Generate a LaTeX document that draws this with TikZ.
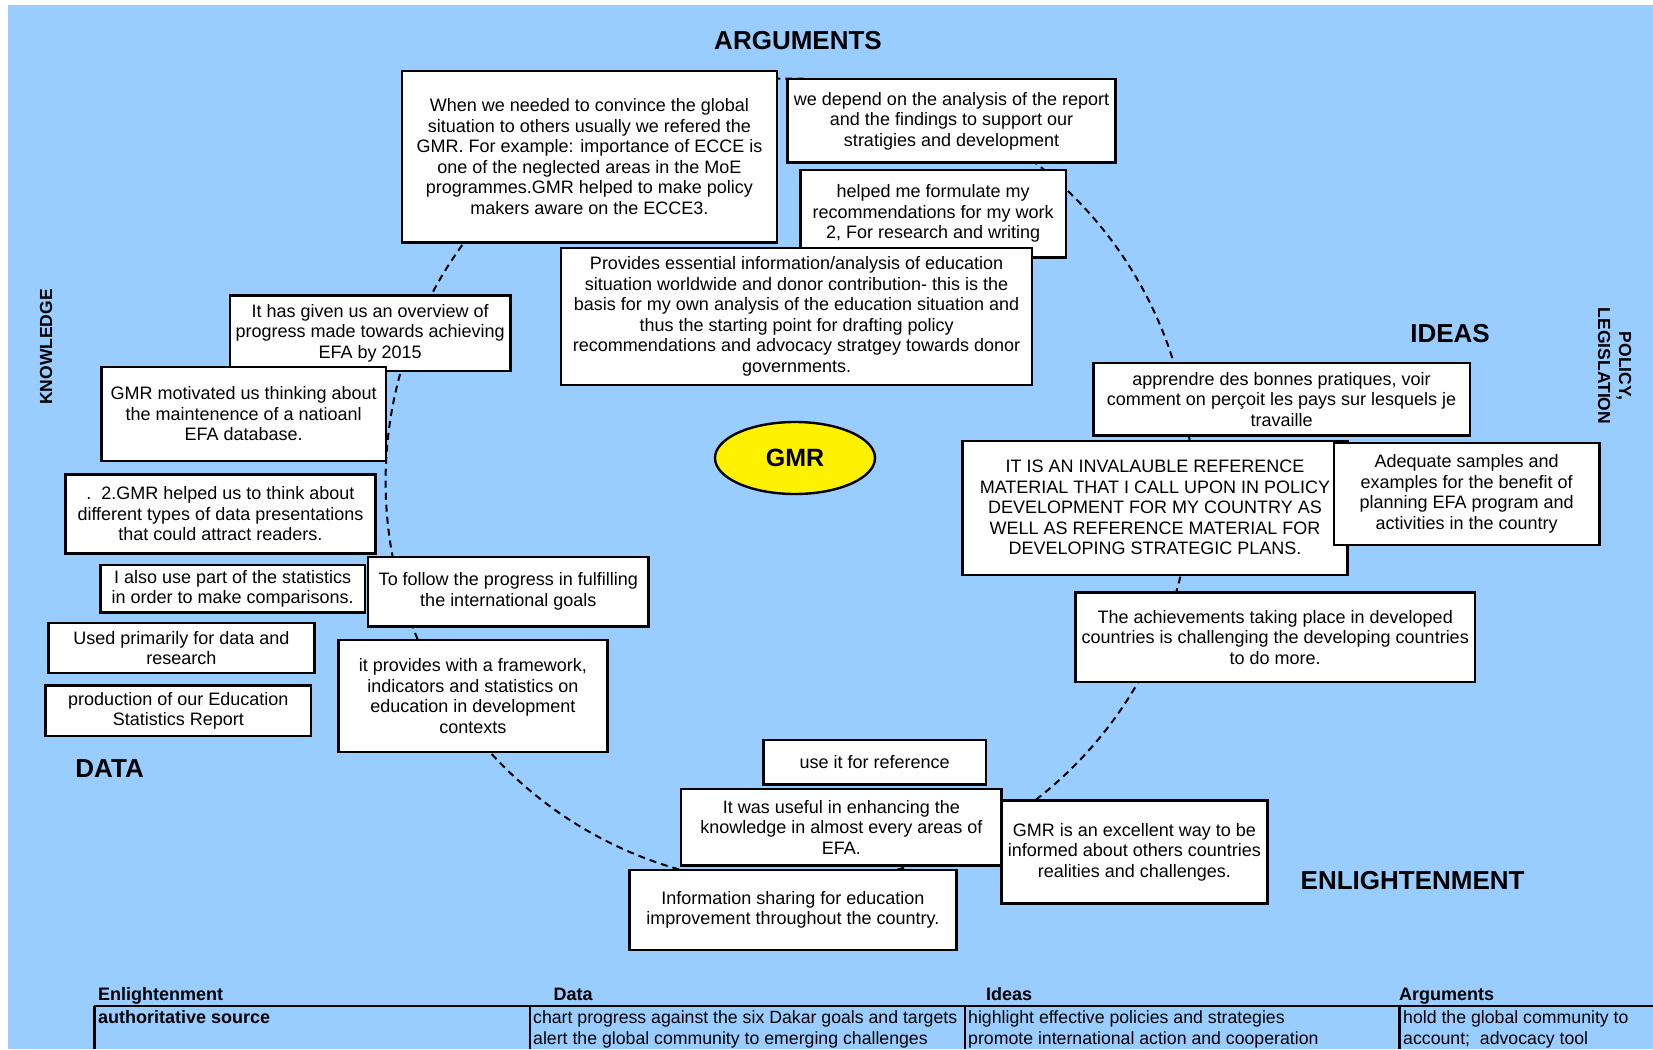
\documentclass[tikz,border=0pt]{standalone}
\usepackage{fontspec}
\setmainfont{Liberation Sans}
\usetikzlibrary{shapes.geometric}
\definecolor{bgblue}{HTML}{99CCFF}
\tikzset{
  box/.style={draw=black, fill=white, line width=2.4pt, align=center, inner sep=1pt,
    font=\fontsize{18pt}{20.5pt}\selectfont},
  bigtitle/.style={font=\fontsize{26pt}{30pt}\selectfont\bfseries, inner sep=0pt},
  sidetitle/.style={font=\fontsize{17.5pt}{21pt}\selectfont\bfseries, inner sep=0pt, align=center},
  tabhead/.style={font=\fontsize{18pt}{21pt}\selectfont\bfseries, inner sep=0pt, anchor=base west},
  tabtext/.style={font=\fontsize{17.7pt}{21pt}\selectfont, inner sep=0pt, anchor=base west},
  tabline/.style={line width=2.2pt},
  ring/.style={line width=2pt, dash pattern=on 7pt off 5pt}
}
\newcommand\gbox[6]{\node[box,anchor=north west,minimum width={(#4-#2)*1pt},minimum height={(#5-#3)*1pt}] (#1) at (#2,#3) {#6};}
\begin{document}
\begin{tikzpicture}[x=1pt,y=-1pt]
\useasboundingbox (0,0) rectangle (1653,1049);
\fill[bgblue] (8,5) rectangle (1653,1049);
% dashed ring
\coordinate (ringc) at (788.6,481.5);
\draw[ring] (ringc) circle[radius=403];
% boxes
\gbox{b1}{400.6}{69.6}{775.9}{241.4}{When we needed to convince the global\\situation to others usually we refered the\\GMR. For example: importance of ECCE is\\one of the neglected areas in the MoE\\programmes.GMR helped to make policy\\makers aware on the ECCE3.}
\gbox{b2}{786.4}{78}{1114.3}{161.3}{we depend on the analysis of the report\\and the findings to support our\\stratigies and development}
\gbox{b3}{799.1}{168.7}{1064.8}{256.2}{helped me formulate my\\recommendations for my work\\2, For research and writing}
\gbox{b4}{559.8}{246.7}{1031}{383.7}{Provides essential information/analysis of education\\situation worldwide and donor contribution- this is the\\basis for my own analysis of the education situation and\\thus the starting point for drafting policy\\recommendations and advocacy stratgey towards donor\\governments.}
\gbox{b5}{228.8}{294.1}{509.2}{370}{It has given us an overview of\\progress made towards achieving\\EFA by 2015}
\gbox{b6}{100.2}{365.8}{384.8}{459.6}{GMR motivated us thinking about\\the maintenence of a natioanl\\EFA database.}
\gbox{b7}{64.3}{473.3}{374.2}{552.4}{.\ \ 2.GMR helped us to think about\\different types of data presentations\\that could attract readers.}
\gbox{b8}{99.1}{564}{363.7}{611.4}{I also use part of the statistics\\in order to make comparisons.}
\gbox{b9}{366.9}{555.6}{647.3}{625.1}{To follow the progress in fulfilling\\the international goals}
\gbox{b10}{47.4}{622}{313.1}{671.5}{Used primarily for data and\\research}
\gbox{b11}{44.3}{684.2}{309.9}{734.8}{production of our Education\\Statistics Report}
\gbox{b12}{337.3}{638.9}{606.2}{750.6}{it provides with a framework,\\indicators and statistics on\\education in development\\contexts}
\gbox{b13}{1092.2}{361.6}{1468.5}{434.3}{apprendre des bonnes pratiques, voir\\comment on perçoit les pays sur lesquels je\\travaille}
\gbox{b14}{961.4}{439.6}{1346.2}{573.5}{IT IS AN INVALAUBLE REFERENCE\\MATERIAL THAT I CALL UPON IN POLICY\\DEVELOPMENT FOR MY COUNTRY AS\\WELL AS REFERENCE MATERIAL FOR\\DEVELOPING STRATEGIC PLANS.}
\gbox{b15}{1332.5}{441.7}{1598.2}{544}{Adequate samples and\\examples for the benefit of\\planning EFA program and\\activities in the country}
\gbox{b16}{1074.2}{591.4}{1473.8}{681}{The achievements taking place in developed\\countries is challenging the developing countries\\to do more.}
\gbox{b17}{762.2}{739}{984.6}{783.3}{use it for reference}
\gbox{b18}{680}{787.5}{1000.4}{864.4}{It was useful in enhancing the\\knowledge in almost every areas of\\EFA.}
\gbox{b19}{1000.4}{799.1}{1266.1}{902.4}{GMR is an excellent way to be\\informed about others countries\\realities and challenges.}
\gbox{b20}{628.3}{868.7}{955.1}{948.8}{Information sharing for education\\improvement throughout the country.}
% centre
\node[ellipse, draw=black, fill=yellow, line width=2.4pt, minimum width=160pt, minimum height=72pt, inner sep=0pt,
  font=\fontsize{25pt}{30pt}\selectfont\bfseries] (gmr) at (795,458) {GMR};
% titles
\node[bigtitle] (targ) at (798,41) {ARGUMENTS};
\node[bigtitle] (tidea) at (1450,334) {IDEAS};
\node[bigtitle] (tdata) at (109.6,768.5) {DATA};
\node[bigtitle] (tenl) at (1412.6,880.3) {ENLIGHTENMENT};
\node[sidetitle, rotate=90] (tknow) at (46,347) {KNOWLEDGE};
\node[sidetitle, rotate=-90] (tpol) at (1614.5,366) {POLICY,\\LEGISLATION};
% table
\draw[tabline] (94.4,1005.7) -- (1653,1005.7);
\draw[tabline] (94.4,1005.7) -- (94.4,1049);
\draw[tabline] (530,1005.7) -- (530,1049);
\draw[tabline] (965,1005.7) -- (965,1049);
\draw[tabline] (1399.5,1005.7) -- (1399.5,1049);
\node[tabhead] (h1) at (98,1000.5) {Enlightenment};
\node[tabhead] (h2) at (553.5,1000.5) {Data};
\node[tabhead] (h3) at (986,1000.5) {Ideas};
\node[tabhead] (h4) at (1399,1000.5) {Arguments};
\node[tabhead] (r1c1) at (98,1023) {authoritative source};
\node[tabtext] (r1c2) at (533,1023) {chart progress against the six Dakar goals and targets};
\node[tabtext] (r2c2) at (533,1044) {alert the global community to emerging challenges};
\node[tabtext] (r1c3) at (968,1023) {highlight effective policies and strategies};
\node[tabtext] (r2c3) at (968,1044) {promote international action and cooperation};
\node[tabtext] (r1c4) at (1403,1023) {hold the global community to};
\node[tabtext] (r2c4) at (1403,1044) {account;\ \ advocacy tool};
\end{tikzpicture}
\end{document}
